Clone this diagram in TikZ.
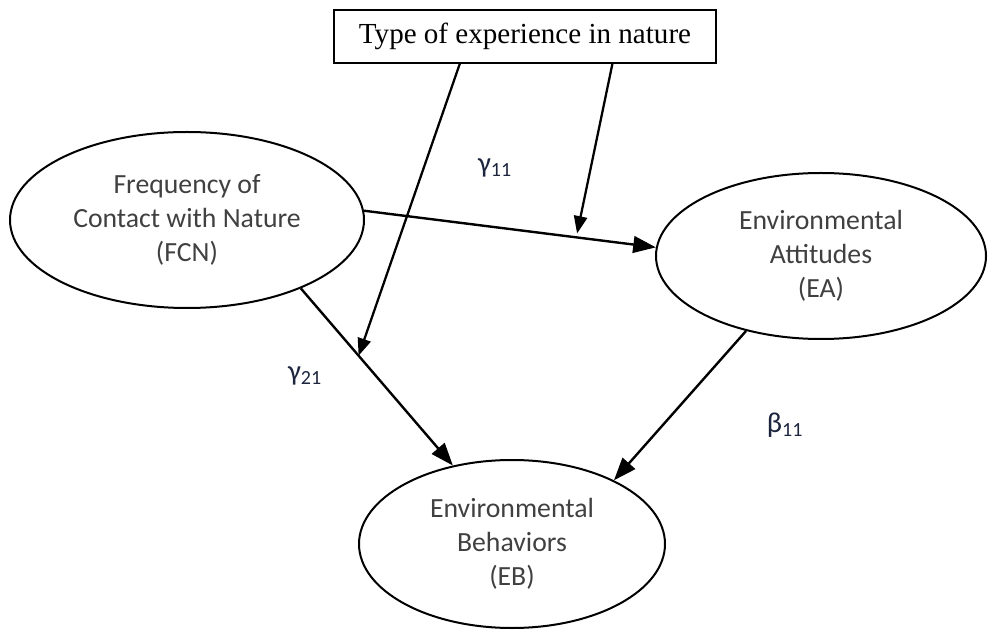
\documentclass[tikz,border=0pt]{standalone}
\usepackage{fontspec}
\setmainfont{Liberation Serif}
\newfontfamily\calib{Carlito}
\usetikzlibrary{arrows.meta,shapes.geometric,calc}
\definecolor{txtgray}{RGB}{64,64,64}
\definecolor{labnavy}{RGB}{28,36,62}
\begin{document}
\begin{tikzpicture}[x=0.75pt,y=-0.75pt,
  latent/.style={draw, line width=1.5pt, ellipse, inner sep=0pt, align=center,
     font=\calib\fontsize{20.8}{25.5}\selectfont, text=txtgray},
  modbox/.style={draw, line width=1.1pt, rectangle, inner sep=0pt,
     font=\fontsize{21.8}{24}\selectfont},
  path/.style={line width=1.8pt, -{Triangle[length=17pt,width=12.5pt]}},
  modpath/.style={line width=1.7pt, -{Triangle[length=13pt,width=10pt]}},
  coef/.style={font=\calib\fontsize{21.5}{24}\selectfont, text=labnavy}]
\useasboundingbox (0,0) rectangle (988,630);
\node[modbox, minimum width=382*0.75pt, minimum height=53*0.75pt] (box) at (525,36.5) {Type of experience in nature};
\node[latent, minimum width=354*0.75pt, minimum height=176*0.75pt] (FCN) at (187,220) {Frequency of\\Contact with Nature\\(FCN)};
\node[latent, minimum width=330*0.75pt, minimum height=166*0.75pt] (EA) at (821,256) {Environmental\\Attitudes\\(EA)};
\node[latent, minimum width=306*0.75pt, minimum height=168*0.75pt] (EB) at (512,544) {Environmental\\Behaviors\\(EB)};
\draw[path] (FCN.3) -- (EA.177) coordinate[pos=0.73] (t2);
\draw[path] (FCN.-31) -- (EB.127) coordinate[pos=0.38] (t1);
\draw[path] (EA.-135) -- (EB.32.6);
\coordinate (m1) at ($(box.south west)!0.33!(box.south east)$);
\coordinate (m2) at ($(box.south west)!0.728!(box.south east)$);
\draw[modpath] (m1) -- (t1);
\draw[modpath] (m2) -- ([yshift=3pt]t2);
\node[coef] (g11) at (495,168) {γ\textsubscript{11}};
\node[coef] (g21) at (305,376) {γ\textsubscript{21}};
\node[coef] (b11) at (785,425) {β\textsubscript{11}};
\end{tikzpicture}
\end{document}
